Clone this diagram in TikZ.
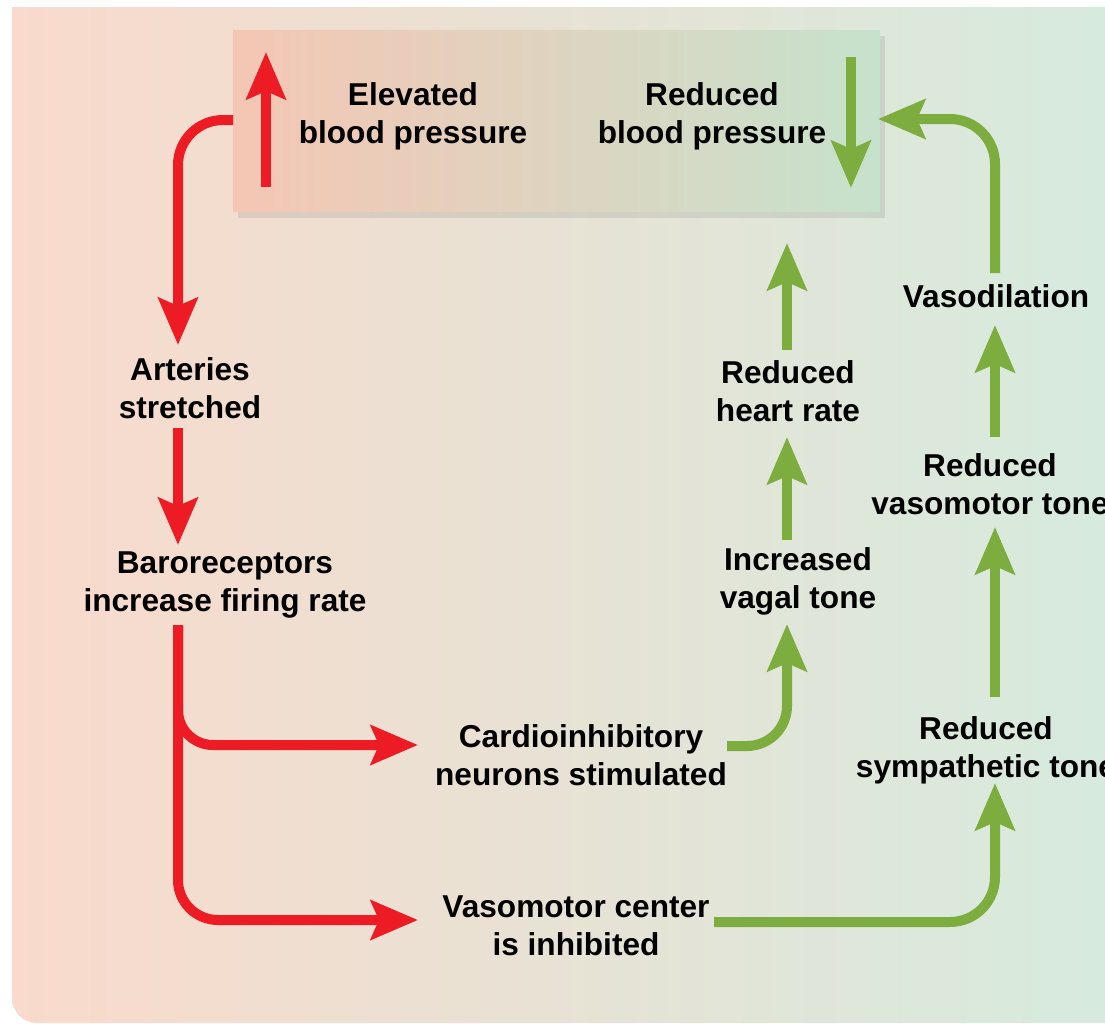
\documentclass[tikz,border=0pt]{standalone}
\usepackage{fontspec}
\setmainfont{Liberation Sans}
\usepackage{tikz}
\usetikzlibrary{arrows.meta,shadows}
\definecolor{rojizo}{RGB}{237,28,36}
\definecolor{verdoso}{RGB}{125,172,63}
\definecolor{salmoncito}{RGB}{249,218,204}
\definecolor{mentita}{RGB}{213,235,222}
\definecolor{cajarosa}{RGB}{245,198,180}
\definecolor{cajaverde}{RGB}{198,226,204}
\tikzset{>={Stealth[length=0.94cm,width=0.78cm,inset=0.16cm]},
  flecharoja/.style={->,line width=0.2cm,rojizo},
  flechaverde/.style={->,line width=0.2cm,verdoso},
  etiqueta/.style={align=center,inner sep=0pt,font=\bfseries\fontsize{18}{21.5}\selectfont}}

\begin{document}
\begin{tikzpicture}[x=0.02cm,y=-0.02cm]
  \clip (0,0) rectangle (1105,1025);
  % fondo
  \shade[left color=salmoncito,right color=mentita]
    (12,7) -- (12,900) [rounded corners=0.5cm] -- (12,1023) -- (1130,1023) [sharp corners] -- (1130,7) -- cycle;
  % caja de arriba
  \node[minimum width=12.94cm,minimum height=3.64cm,inner sep=0pt,
    left color=cajarosa,right color=cajaverde,
    drop shadow={shadow xshift=0.1cm,shadow yshift=-0.12cm,opacity=0.15,fill=black!60}] (caja) at (556.5,121) {};
  \node[etiqueta] (elevada) at (413,116) {Elevated\\blood pressure};
  \node[etiqueta] (reducida) at (712,116) {Reduced\\blood pressure};
  \coordinate (subeA) at (266,187);
  \coordinate (subeB) at (266,52);
  \coordinate (bajaA) at (851,57);
  \coordinate (bajaB) at (851,188);
  \draw[flecharoja] (subeA) -- (subeB);
  \draw[flechaverde] (bajaA) -- (bajaB);

  % lado rojo
  \node[etiqueta] (arterias) at (190,388) {Arteries\\stretched};
  \node[etiqueta] (baro) at (225,585) {Baroreceptors\\increase firing rate};
  \node[etiqueta] (cardio) at (581,755) {Cardioinhibitory\\neurons stimulated};
  \node[etiqueta] (vasocentro) at (576,926) {Vasomotor center\\is inhibited};
  \coordinate (cajaIzq) at (233,120);
  \coordinate (arteriasArr) at (178,345);
  \coordinate (arteriasAbj) at (178,428);
  \coordinate (baroArr) at (178,545);
  \coordinate (baroAbj) at (178,625);
  \coordinate (cardioIzq) at (418,745);
  \coordinate (vasoIzq) at (418,920);
  \draw[flecharoja,rounded corners=0.9cm] (cajaIzq) -| (arteriasArr);
  \draw[flecharoja] (arteriasAbj) -- (baroArr);
  \draw[flecharoja,rounded corners=0.8cm] (baroAbj) |- (vasoIzq);
  \draw[flecharoja,rounded corners=0.7cm] (baroAbj) |- (cardioIzq);

  % lado verde
  \node[etiqueta] (simpatico) at (986,750) {Reduced\\sympathetic tone};
  \node[etiqueta] (tono) at (990,484) {Reduced\\vasomotor tone};
  \node[etiqueta] (vasodil) at (996,296) {Vasodilation};
  \node[etiqueta] (vagal) at (798,581) {Increased\\vagal tone};
  \node[etiqueta] (corazon) at (788,391) {Reduced\\heart rate};
  \coordinate (vasoDer) at (714,922);
  \coordinate (simpAbj) at (995,783);
  \coordinate (simpArr) at (995,697);
  \coordinate (tonoAbj) at (995,527);
  \coordinate (tonoArr) at (995,437);
  \coordinate (dilAbj) at (995,325);
  \coordinate (dilArr) at (995,273);
  \coordinate (cajaDer) at (878,119);
  \coordinate (cardioDer) at (727,746);
  \coordinate (vagalAbj) at (787,624);
  \coordinate (vagalArr) at (787,540);
  \coordinate (corazonAbj) at (787,437);
  \coordinate (corazonArr) at (787,350);
  \coordinate (cajaAbj) at (787,243);
  \draw[flechaverde,rounded corners=0.9cm] (vasoDer) -| (simpAbj);
  \draw[flechaverde] (simpArr) -- (tonoAbj);
  \draw[flechaverde] (tonoArr) -- (dilAbj);
  \draw[flechaverde,rounded corners=0.9cm] (dilArr) |- (cajaDer);
  \draw[flechaverde,rounded corners=0.8cm] (cardioDer) -| (vagalAbj);
  \draw[flechaverde] (vagalArr) -- (corazonAbj);
  \draw[flechaverde] (corazonArr) -- (cajaAbj);
\end{tikzpicture}
\end{document}
